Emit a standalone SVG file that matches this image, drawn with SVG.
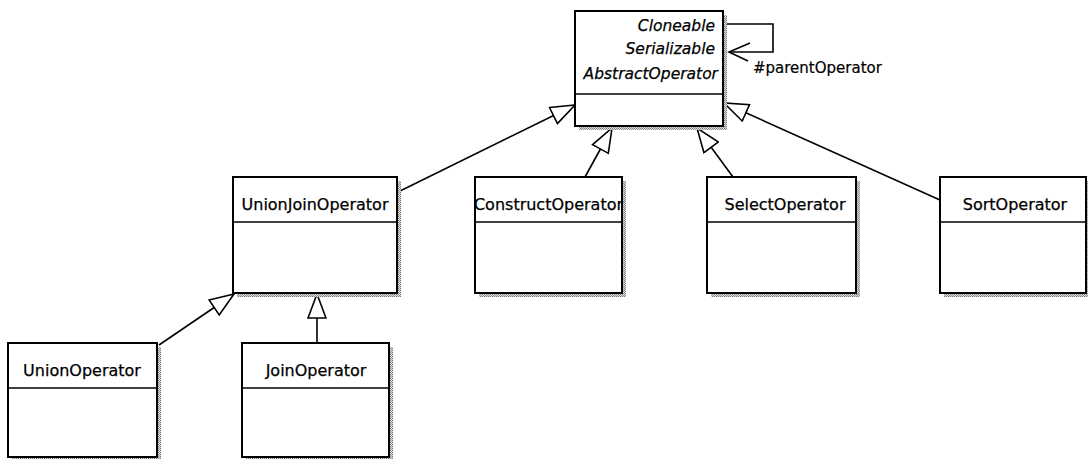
<svg xmlns="http://www.w3.org/2000/svg" width="1088" height="459" viewBox="0 0 1088 459">
<style>
.box{fill:#fff;stroke:#000;stroke-width:2}
.shadow{fill:url(#stip)}
.div{stroke:#000;stroke-width:1.5}
.lbl{font-family:"DejaVu Sans",sans-serif;font-size:16px;fill:#000;stroke:#000;stroke-width:0.25;text-anchor:middle}
.it{font-family:"DejaVu Sans",sans-serif;font-size:15.5px;font-style:italic;fill:#000;stroke:#000;stroke-width:0.25;text-anchor:end}
.role{font-family:"DejaVu Sans",sans-serif;font-size:15px;fill:#000;stroke:#000;stroke-width:0.2}
.conn{stroke:#000;stroke-width:1.6;fill:none}
</style>
<defs>
<pattern id="stip" width="2" height="2" patternUnits="userSpaceOnUse">
<rect width="2" height="2" fill="#dcdcdc"/>
<rect width="1" height="1" fill="#7a7a7a"/>
<rect x="1" y="1" width="1" height="1" fill="#9a9a9a"/>
</pattern>
<marker id="gen" markerUnits="userSpaceOnUse" viewBox="-1 -1 27 20" markerWidth="27" markerHeight="20" refX="24" refY="9" orient="auto">
<path d="M0,0 L24,9 L0,18 Z" fill="#fff" stroke="#000" stroke-width="1.6"/>
</marker>
</defs>

<g id="connectors">
<line class="conn" x1="398" y1="192" x2="575" y2="105" marker-end="url(#gen)"/>
<line class="conn" x1="585" y1="177" x2="612" y2="128" marker-end="url(#gen)"/>
<line class="conn" x1="733" y1="177" x2="697" y2="128" marker-end="url(#gen)"/>
<line class="conn" x1="940" y1="200" x2="724" y2="103" marker-end="url(#gen)"/>
<line class="conn" x1="159" y1="345" x2="234" y2="294" marker-end="url(#gen)"/>
<line class="conn" x1="317" y1="343" x2="317" y2="294" marker-end="url(#gen)"/>
<g id="parentOperator">
<polyline class="conn" points="724,24 773,24 773,52 729,52"/>
<polyline class="conn" points="750,43 729,52 748,61"/>
<text class="role" x="753" y="73">#parentOperator</text>
</g>
</g>

<g id="AbstractOperator">
<rect class="shadow" x="579" y="15" width="148" height="115"/>
<rect class="box" x="575" y="11" width="148" height="115"/>
<line class="div" x1="575" y1="94" x2="723" y2="94"/>
<text class="it" x="715" y="31">Cloneable</text>
<text class="it" x="715" y="54">Serializable</text>
<text class="it" x="718" y="79">AbstractOperator</text>
</g>

<g id="UnionJoinOperator">
<rect class="shadow" x="237" y="181" width="164" height="116"/>
<rect class="box" x="233" y="177" width="164" height="116"/>
<line class="div" x1="233" y1="222" x2="397" y2="222"/>
<text class="lbl" x="315" y="210">UnionJoinOperator</text>
</g>

<g id="ConstructOperator">
<rect class="shadow" x="479" y="181" width="147" height="116"/>
<rect class="box" x="475" y="177" width="147" height="116"/>
<line class="div" x1="475" y1="222" x2="622" y2="222"/>
<text class="lbl" x="548.5" y="210">ConstructOperator</text>
</g>

<g id="SelectOperator">
<rect class="shadow" x="711" y="181" width="149" height="116"/>
<rect class="box" x="707" y="177" width="149" height="116"/>
<line class="div" x1="707" y1="222" x2="856" y2="222"/>
<text class="lbl" x="785" y="210">SelectOperator</text>
</g>

<g id="SortOperator">
<rect class="shadow" x="944" y="181" width="146" height="116"/>
<rect class="box" x="940" y="177" width="146" height="116"/>
<line class="div" x1="940" y1="222" x2="1086" y2="222"/>
<text class="lbl" x="1015" y="210">SortOperator</text>
</g>

<g id="UnionOperator">
<rect class="shadow" x="12" y="347" width="149" height="116"/>
<rect class="box" x="8" y="343" width="149" height="114"/>
<line class="div" x1="8" y1="388" x2="157" y2="388"/>
<text class="lbl" x="82" y="376">UnionOperator</text>
</g>

<g id="JoinOperator">
<rect class="shadow" x="246" y="347" width="147" height="116"/>
<rect class="box" x="242" y="343" width="147" height="114"/>
<line class="div" x1="242" y1="388" x2="389" y2="388"/>
<text class="lbl" x="316" y="376">JoinOperator</text>
</g>
</svg>
